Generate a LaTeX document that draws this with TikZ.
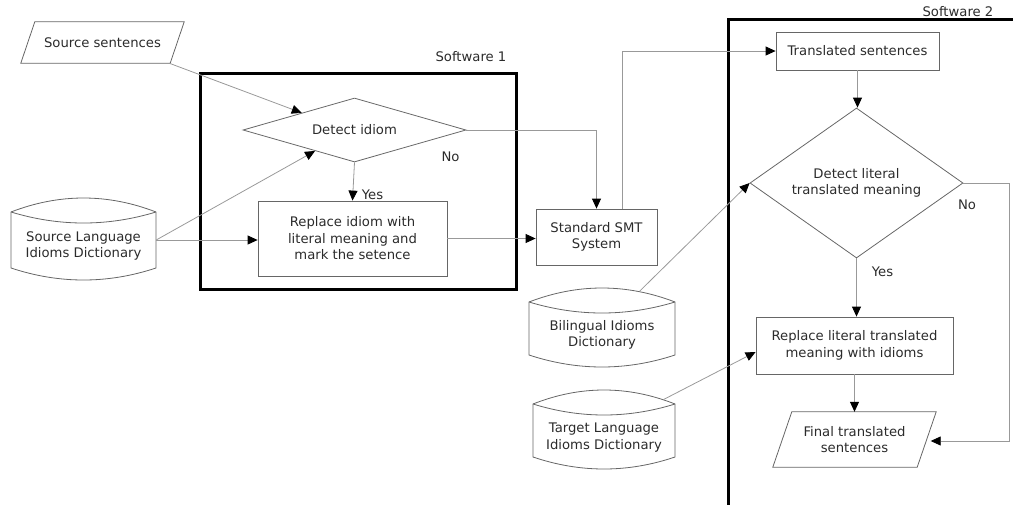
\documentclass[tikz,border=0pt]{standalone}
\usepackage{fontspec}
\setmainfont{DejaVu Sans}
\usetikzlibrary{shapes.geometric,arrows.meta,calc}
\definecolor{txt}{HTML}{2B2B2B}
\definecolor{bord}{HTML}{666666}
\definecolor{conn}{HTML}{999999}
\newcommand{\drawdb}[5]{%
 \draw[dbline] (#1,#4) -- (#1,#3) .. controls ({#1+(#2-#1)/3},#3-18.67) and ({#2-(#2-#1)/3},#3-18.67) .. (#2,#3) -- (#2,#4) .. controls ({#2-(#2-#1)/3},#4+16) and ({#1+(#2-#1)/3},#4+16) .. cycle;
 \draw[dbline] (#1,#3) .. controls ({#1+(#2-#1)/3},#3+14.67) and ({#2-(#2-#1)/3},#3+14.67) .. (#2,#3);
 \node[minimum width={#2-#1}, minimum height={#4-#3}, inner sep=0pt, draw=none] (#5) at ({(#1+#2)/2},{(#3+#4)/2}) {};
}
\newcommand{\drawpar}[2]{%
 \draw[dbline] ($(#1.south west)+(-#2,0pt)$) -- ($(#1.north west)+(#2,0pt)$) -- ($(#1.north east)+(#2,0pt)$) -- ($(#1.south east)+(-#2,0pt)$) -- cycle;
}
\tikzset{
 every node/.style={font=\fontsize{13.2}{16.5}\selectfont, text=txt},
 proc/.style={draw=bord, line width=0.8pt, rectangle, inner sep=0pt, align=center},
 dec/.style={draw=bord, line width=0.8pt, diamond, inner sep=0pt, align=center},
 iotext/.style={rectangle, inner sep=0pt, align=center},
 dbline/.style={draw=bord, line width=0.8pt},
 arr/.style={draw=conn, line width=0.8pt, -{Triangle[length=10pt,width=9pt,color=black]}},
 swbox/.style={draw=black, line width=3pt},
}
\begin{document}
\begin{tikzpicture}[x=1pt,y=-1pt]
\useasboundingbox (0,0) rectangle (1013,504);
\clip (0,0) rectangle (1013,504);
% software boxes
\draw[swbox] (200,73) rectangle (516,289);
\draw[swbox] (728,530) -- (728,19) -- (1030,19);
\node (sw1) at (471,57) {Software 1};
\node (sw2) at (958,12) {Software 2};
% nodes
\node[iotext, minimum width=149, minimum height=41] (src) at (102.5,42.5) {Source sentences};
\drawpar{src}{7pt}
\node[dec, aspect=3.48, minimum width=223, minimum height=64] (det) at (354.5,130) {Detect idiom};
\node[proc, minimum width=189, minimum height=75] (rep1) at (352.5,238.5) {Replace idiom with\\literal meaning and\\mark the setence};
\node[proc, minimum width=121, minimum height=56] (smt) at (596.5,237) {Standard SMT\\System};
\node[proc, minimum width=163, minimum height=38] (trans) at (857.5,51) {Translated sentences};
\node[dec, aspect=1.42, minimum width=213, minimum height=150] (det2) at (856.5,183) {Detect literal\\translated meaning};
\node[proc, minimum width=197, minimum height=57] (rep2) at (854.5,345.5) {Replace literal translated\\meaning with idioms};
\node[iotext, minimum width=144, minimum height=55] (fin) at (854.5,439.5) {Final translated\\sentences};
\drawpar{fin}{9.5pt}
% databases
\drawdb{11}{156}{212}{268}{sdict}
\node[align=center] (sdictt) at (83.5,246) {Source Language\\Idioms Dictionary};
\drawdb{529}{675}{302}{355}{bil}
\node[align=center] (bilt) at (602,335) {Bilingual Idioms\\Dictionary};
\drawdb{533}{675}{404}{457}{tgt}
\node[align=center] (tgtt) at (604,437.5) {Target Language\\Idioms Dictionary};
% connectors
\draw[arr] ([xshift=-8pt]src.south east) -- (det.162);
\draw[arr] (sdict.east) -- (det.208);
\draw[arr] (sdict.east) -- (sdict.east -| rep1.west);
\draw[arr] (det.south) -- (rep1.north);
\node (yes1) at (372.5,195) {Yes};
\node (no1) at (450.5,157) {No};
\draw[arr] (det.east) -| (smt.north);
\draw[arr] (rep1.east) -- (rep1.east -| smt.west);
\draw[arr] ([xshift=26pt]smt.north) |- (trans.west);
\draw[arr] (trans.south) -- (trans.south |- det2.north);
\draw[arr] (det2.south) -- (det2.south |- rep2.north);
\node (yes2) at (882.5,272) {Yes};
\draw[arr] (rep2.south) -- (fin.north);
\draw[arr] (det2.east) -- ++(46,0) |- ([xshift=4pt,yshift=-1.5pt]fin.east);
\node (no2) at (967,205) {No};
\draw[arr] ([shift={(38pt,11pt)}]bil.north) -- (det2.west);
\draw[arr] ([shift={(59pt,4pt)}]tgt.north) -- ([yshift=-6.5pt]rep2.west);
\end{tikzpicture}
\end{document}
